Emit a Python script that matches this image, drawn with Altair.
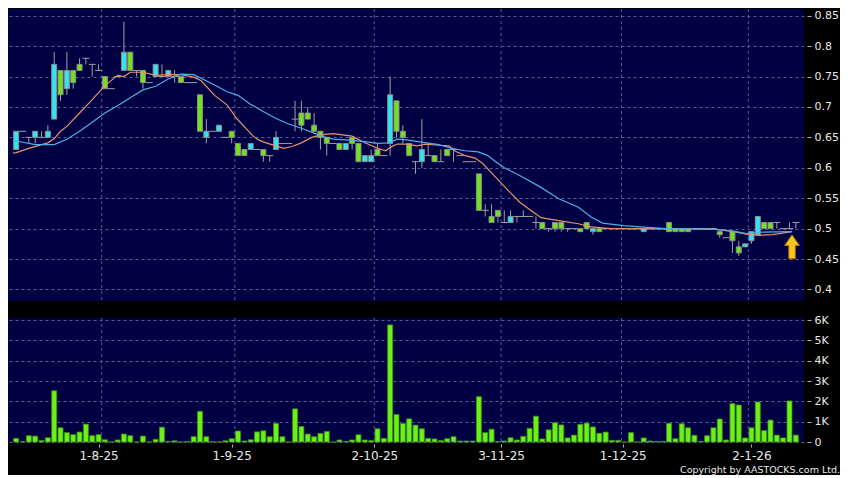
import altair as alt
import pandas as pd

# ---------------- data ----------------
opens = [
    .63, .66, .65, .65, .65, .65, .68, .76, .73, .76,
    .77, .78, .77, .76, .75, .73, .75, .76, .79, .76,
    .76, .74, .75, .75, .75, .75, .75, .74, .74, .72,
    .65, .66, .66, .65, .66, .64, .63, .63, .63, .63,
    .62, .63, .64, .64, .68, .69, .69, .67, .66, .65,
    .64, .64, .63, .65, .64, .61, .61, .63, .62, .64,
    .71, .66, .64, .61, .61, .62, .62, .61, .63, .63,
    .62, .61, .61, .59, .53, .52, .53, .51, .51, .52,
    .52, .52, .51, .51, .50, .51, .51, .50, .50, .50,
    .51, .495, .50, .50, .50, .50, .50, .50, .50, .495,
    .50, .50, .50, .51, .50, .50, .50, .50, .50, .50,
    .50, .495, .485, .495, .47, .47, .48, .49, .51, .51,
    .51, .50, .50, .51]
highs = [
    .66, .66, .65, .66, .66, .67, .79, .76, .79, .76,
    .78, .78, .77, .77, .75, .73, .75, .84, .79, .76,
    .76, .74, .77, .77, .76, .76, .75, .74, .74, .72,
    .68, .66, .67, .65, .66, .64, .63, .64, .63, .63,
    .62, .66, .64, .64, .71, .71, .70, .69, .66, .65,
    .64, .64, .64, .65, .64, .62, .63, .64, .62, .75,
    .71, .67, .64, .61, .68, .64, .62, .63, .63, .63,
    .62, .61, .61, .59, .54, .54, .53, .53, .53, .52,
    .53, .52, .52, .51, .50, .51, .51, .50, .50, .50,
    .51, .50, .50, .50, .50, .50, .50, .50, .50, .50,
    .50, .50, .50, .51, .50, .50, .50, .50, .50, .50,
    .50, .495, .485, .495, .48, .475, .495, .52, .51, .51,
    .51, .50, .51, .51]
lows = [
    .63, .66, .64, .64, .65, .65, .68, .71, .72, .73,
    .76, .77, .75, .76, .73, .73, .75, .76, .76, .75,
    .73, .74, .75, .75, .75, .74, .74, .74, .74, .66,
    .64, .66, .66, .65, .64, .62, .62, .63, .63, .61,
    .61, .63, .64, .64, .66, .66, .68, .66, .63, .62,
    .64, .63, .63, .63, .61, .61, .61, .62, .62, .62,
    .65, .64, .62, .59, .60, .62, .61, .61, .62, .61,
    .62, .61, .61, .53, .52, .51, .51, .51, .51, .51,
    .52, .52, .50, .50, .495, .495, .495, .495, .50, .495,
    .50, .49, .495, .50, .50, .50, .50, .50, .50, .495,
    .50, .50, .50, .495, .495, .495, .495, .50, .50, .50,
    .50, .485, .485, .46, .455, .47, .475, .49, .50, .50,
    .50, .50, .50, .50]
closes = [
    .66, .66, .65, .66, .65, .66, .77, .72, .76, .74,
    .76, .78, .77, .76, .73, .73, .75, .79, .76, .76,
    .74, .74, .77, .75, .76, .75, .74, .74, .74, .66,
    .66, .66, .67, .65, .65, .62, .62, .64, .63, .62,
    .62, .65, .64, .64, .68, .67, .68, .66, .65, .64,
    .64, .63, .64, .64, .61, .62, .62, .62, .62, .72,
    .66, .65, .62, .61, .63, .62, .61, .61, .62, .63,
    .62, .61, .61, .53, .53, .51, .52, .51, .52, .52,
    .52, .52, .51, .50, .50, .50, .50, .50, .50, .495,
    .50, .50, .495, .50, .50, .50, .50, .50, .50, .50,
    .50, .50, .50, .495, .495, .495, .495, .50, .50, .50,
    .50, .49, .485, .48, .46, .475, .495, .52, .50, .50,
    .51, .50, .50, .51]
volumes_k = [
    .18, .02, .31, .29, .07, .21, 2.52, .70, .46, .36,
    .49, .88, .31, .36, .11, 0, .10, .39, .31, 0,
    .29, 0, .13, .73, .03, .06, 0, .03, .26, 1.51,
    .26, .02, 0, .06, .16, .54, .05, .11, .50, .55,
    .26, .91, .26, 0, 1.63, .76, .39, .26, .42, .52,
    0, .10, .03, .10, .36, .10, .07, .65, .18, 5.76,
    1.35, .91, 1.14, .83, .65, .18, .15, .07, .16, .26,
    .05, .05, .05, 2.23, .46, .63, .02, .05, .21, .10,
    .28, .67, 1.27, .15, .60, .95, .84, .20, .34, .87,
    .93, .74, .43, .49, .08, .08, 0, .46, 0, .20,
    .05, .03, .03, .92, .16, .90, .70, .33, .03, .31,
    .70, 1.13, .10, 1.89, 1.82, .20, .70, 1.97, .56, 1.08,
    .34, .20, 2.02, .34]

# moving averages (bar index, value)
ma_short_x = [-0.5, 0, 2, 4, 5, 6, 7, 8, 10, 12, 14, 16, 17, 18, 20, 22, 24, 26, 28,
              29.2, 31.3, 33.3, 34.8, 36.4, 37.4, 38.4, 39.4, 41, 42.2, 43.5, 45, 46.6,
              48.1, 50, 53, 55, 57, 58.3, 59.1, 60.1, 61.6, 63.2, 64.7, 66.7, 68.3, 69.3,
              70.8, 72.4, 73.6, 75.4, 77.5, 79.5, 81.6, 82.8, 85.6, 88.7, 90.7, 93.8,
              110, 111.6, 113.2, 115.2, 117.2, 119.3, 122.4]
ma_short_y = [.624, .625, .632, .638, .641, .648, .66, .668, .69, .712, .735, .752, .75,
              .757, .757, .752, .753, .753, .749, .743, .719, .703, .681, .663, .652, .645,
              .641, .636, .632, .635, .641, .65, .654, .656, .652, .641, .632, .628, .634,
              .639, .639, .636, .639, .637, .636, .627, .62, .616, .607, .587, .564, .543,
              .527, .518, .513, .508, .503, .50, .499, .497, .495, .491, .489, .49, .495]
ma_long_x = [-0.5, 0, 3, 6, 8, 10, 12, 14, 16, 18, 20, 22, 24, 26, 28, 29.8, 31.3, 33.3,
             35, 36.9, 38.9, 41, 43, 45, 47, 48.6, 50, 53, 55, 57, 58.9, 60.1, 61.6, 64.7,
             66.7, 68.7, 70.8, 72.9, 74.4, 75.4, 77, 79.5, 82.6, 85.6, 88.7, 90.7, 92.5,
             95.8, 98.4, 102.5, 110, 113.2, 115.2, 117.2, 122.4]
ma_long_y = [.645, .644, .638, .638, .647, .66, .675, .69, .702, .715, .728, .734, .746,
             .754, .753, .744, .736, .725, .719, .705, .693, .681, .672, .665, .657, .651,
             .647, .645, .643, .64, .641, .647, .646, .641, .638, .632, .628, .626, .62,
             .612, .60, .587, .569, .549, .535, .519, .509, .505, .503, .50, .499, .496,
             .492, .494, .495]

tick_pos = [13, 34, 56.5, 76.5, 95.7, 116]
tick_labels = ["1-8-25", "1-9-25", "2-10-25", "3-11-25", "1-12-25", "2-1-26"]
grid_pos = [13.5, 34.5, 56.5, 76.5, 95.5, 115.5]
price_ticks = [0.4, 0.45, 0.5, 0.55, 0.6, 0.65, 0.7, 0.75, 0.8, 0.85]
vol_ticks = [0, 1, 2, 3, 4, 5, 6]
arrow_x = [122.4]
arrow_y = [0.470]

# ---------------- styling ----------------
W, H1, H2 = 796, 292, 124
PLOT_BG = "#000042"
GRID = "#5a5a98"
CYAN = "#33e3f2"
GREEN = "#72e21e"
VOLG = "#6cf01a"
TXT = "#e8e8e8"
FONT = "DejaVu Sans"

n = len(closes)
df = pd.DataFrame({"i": list(range(n)), "o": opens, "h": highs, "l": lows,
                   "c": closes, "v": volumes_k})
df["dir"] = ["up" if c > o else ("down" if c < o else "flat") for o, c in zip(opens, closes)]
bodies = df[df["dir"] != "flat"]
flats = df[df["dir"] == "flat"]

xs = alt.Scale(domain=[-0.5, 123.5], nice=False, zero=False)
ys = alt.Scale(domain=[0.381, 0.861], nice=False, zero=False)
vs = alt.Scale(domain=[0, 6.1], nice=False, zero=True)

y_axis = alt.Axis(orient="right", values=price_ticks, format=".2~f", grid=True,
                  gridColor=GRID, gridDash=[3, 3], gridWidth=1, domain=False,
                  tickSize=4, tickColor="#b0b0b0", offset=3, labelPadding=3,
                  labelFontSize=11, labelColor=TXT, labelFont=FONT, title=None)
v_axis = alt.Axis(orient="right", values=vol_ticks,
                  labelExpr="datum.value == 0 ? '0' : datum.value + 'K'", grid=True,
                  gridColor=GRID, gridDash=[3, 3], gridWidth=1, domain=False,
                  tickSize=4, tickColor="#b0b0b0", offset=3, labelPadding=3,
                  labelFontSize=11, labelColor=TXT, labelFont=FONT, title=None)
lab_map = "{" + ",".join(f"'{p}':'{t}'" for p, t in zip(tick_pos, tick_labels)) + "}"
x_axis = alt.Axis(values=tick_pos, labelExpr=f"{lab_map}['' + datum.value]", grid=False,
                  domain=False, tickSize=3, tickColor="#b0b0b0", offset=2,
                  labelPadding=3, labelFontSize=12, labelColor=TXT, labelFont=FONT,
                  labelFlush=False, title=None)

grid_df = pd.DataFrame({"g": grid_pos})

# ---------------- price panel ----------------
vgrid = alt.Chart(grid_df).mark_rule(color=GRID, strokeDash=[3, 3], strokeWidth=1).encode(
    x=alt.X("g:Q", scale=xs, axis=None))

wicks = alt.Chart(df).mark_rule(color="#a0a0a0", strokeWidth=1).encode(
    x=alt.X("i:Q", scale=xs, axis=None),
    y=alt.Y("l:Q", scale=ys, axis=y_axis),
    y2="h:Q")

body = alt.Chart(bodies).mark_bar(size=5, stroke="#8c8c8c", strokeWidth=1).encode(
    x=alt.X("i:Q", scale=xs, axis=None),
    y=alt.Y("o:Q", scale=ys, axis=y_axis),
    y2="c:Q",
    color=alt.Color("dir:N", scale=alt.Scale(domain=["up", "down"], range=[CYAN, GREEN]),
                    legend=None))

flat = alt.Chart(flats).mark_tick(orient="horizontal", size=7, thickness=1,
                                  color="#a0a0a0", opacity=1).encode(
    x=alt.X("i:Q", scale=xs, axis=None),
    y=alt.Y("o:Q", scale=ys, axis=y_axis))

ma_s = alt.Chart(pd.DataFrame({"x": ma_short_x, "y": ma_short_y})).mark_line(
    color="#e8926a", strokeWidth=1.2).encode(
    x=alt.X("x:Q", scale=xs, axis=None), y=alt.Y("y:Q", scale=ys, axis=y_axis))
ma_l = alt.Chart(pd.DataFrame({"x": ma_long_x, "y": ma_long_y})).mark_line(
    color="#4eaee8", strokeWidth=1.2).encode(
    x=alt.X("x:Q", scale=xs, axis=None), y=alt.Y("y:Q", scale=ys, axis=y_axis))

arrow_path = "M0,-1 L0.62,-0.12 L0.27,-0.12 L0.27,1 L-0.27,1 L-0.27,-0.12 L-0.62,-0.12 Z"
arrow = alt.Chart(pd.DataFrame({"x": arrow_x, "y": arrow_y})).mark_point(
    shape=arrow_path, size=560, filled=True, fill="#f7c520", stroke="#b87800",
    strokeWidth=1, opacity=1).encode(
    x=alt.X("x:Q", scale=xs, axis=None), y=alt.Y("y:Q", scale=ys, axis=y_axis))

price = alt.layer(vgrid, wicks, body, flat, ma_s, ma_l, arrow).properties(
    width=W, height=H1)

# ---------------- volume panel ----------------
vgrid2 = alt.Chart(grid_df).mark_rule(color=GRID, strokeDash=[3, 3], strokeWidth=1).encode(
    x=alt.X("g:Q", scale=xs, axis=x_axis))

vbars = alt.Chart(df).mark_bar(size=5, color=VOLG, stroke="#3e9010", strokeWidth=0.8).encode(
    x=alt.X("i:Q", scale=xs, axis=x_axis),
    y=alt.Y("v:Q", scale=vs, axis=v_axis))

copy = alt.Chart(pd.DataFrame({"t": ["Copyright by AASTOCKS.com Ltd."]})).mark_text(
    align="right", baseline="alphabetic", fontSize=9.5, font=FONT, color=TXT).encode(
    text="t:N", x=alt.value(832), y=alt.value(H2 + 31))

vol = alt.layer(vgrid2, vbars, copy).properties(width=W, height=H2)

chart = alt.vconcat(price, vol, spacing=12).properties(
    background="#000000", padding=0
).configure_view(stroke=None, fill=PLOT_BG)

chart.save("out.html", embed_options={"renderer": "svg", "actions": False})
